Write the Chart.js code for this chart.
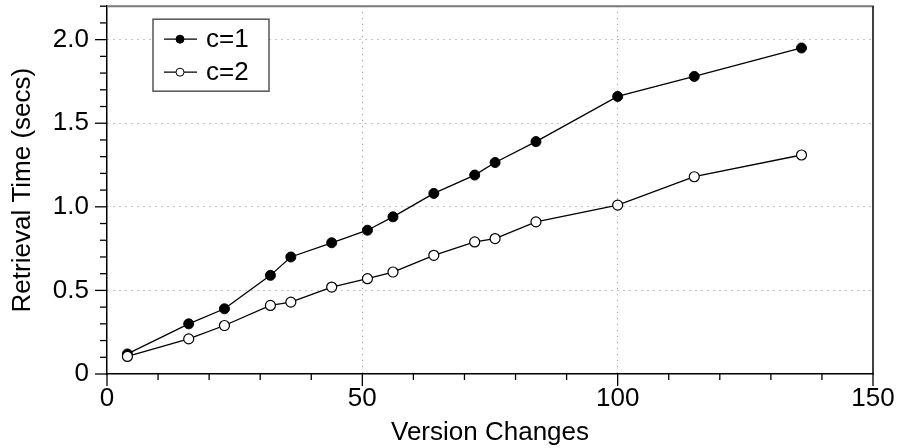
<!DOCTYPE html>
<html>
<head>
<meta charset="utf-8">
<script src="https://cdn.jsdelivr.net/npm/chart.js@4.4.1/dist/chart.umd.min.js"></script>
<style>
  html, body { margin: 0; padding: 0; background: #fff; }
  #wrap { width: 898px; height: 448px; }
</style>
</head>
<body>
<div id="wrap"><canvas id="chart" width="898" height="448"></canvas></div>
<script>
// Retrieval time against number of version changes, for c=1 and c=2
const versionChanges = [4, 16, 23, 32, 36, 44, 51, 56, 64, 72, 76, 84, 100, 115, 136];
const timeC1 = [0.12, 0.30, 0.39, 0.59, 0.70, 0.785, 0.86, 0.94, 1.08, 1.19, 1.265, 1.39, 1.66, 1.78, 1.95];
const timeC2 = [0.105, 0.21, 0.29, 0.41, 0.43, 0.52, 0.57, 0.61, 0.71, 0.79, 0.81, 0.91, 1.01, 1.18, 1.31];
const seriesLabels = ['c=1', 'c=2'];

const xMajorTicks = [0, 50, 100, 150];
const xTickLabels = ['0', '50', '100', '150'];
const xMinorTicks = [10, 20, 30, 40, 60, 70, 80, 90, 110, 120, 130, 140];
const yMajorTicks = [0, 0.5, 1.0, 1.5, 2.0];
const yTickLabels = ['0', '0.5', '1.0', '1.5', '2.0'];
const yMinorTicks = [0.1, 0.2, 0.3, 0.4, 0.6, 0.7, 0.8, 0.9, 1.1, 1.2, 1.3, 1.4, 1.6, 1.7, 1.8, 1.9, 2.1, 2.2];

const FONT = { family: '"Liberation Sans", Arial, Helvetica, sans-serif', size: 26 };

// Major/minor tick marks, the plot frame and the boxed legend
const decorations = {
  id: 'decorations',
  afterDraw(chart) {
    const { ctx, chartArea: a, scales: { x, y } } = chart;
    ctx.save();
    const seg = (x1, y1, x2, y2) => { ctx.beginPath(); ctx.moveTo(x1, y1); ctx.lineTo(x2, y2); ctx.stroke(); };

    // top and right frame
    ctx.strokeStyle = '#7a7a7a'; ctx.lineWidth = 2;
    seg(a.left, a.top, a.right + 1, a.top);
    ctx.strokeStyle = '#000'; ctx.lineWidth = 1.5;
    seg(a.right, a.top, a.right, a.bottom);

    // tick marks
    ctx.strokeStyle = '#000'; ctx.lineWidth = 1.3;
    xMajorTicks.forEach(v => { const p = x.getPixelForValue(v); seg(p, a.bottom, p, a.bottom + 12); });
    xMinorTicks.forEach(v => { const p = x.getPixelForValue(v); seg(p, a.bottom, p, a.bottom + 6); });
    yMajorTicks.forEach(v => { const p = y.getPixelForValue(v); seg(a.left, p, a.left - 12, p); });
    yMinorTicks.forEach(v => { const p = y.getPixelForValue(v); seg(a.left, p, a.left - 7, p); });

    // legend
    const bx = a.left + 46, by = a.top + 13, bw = 116, bh = 72;
    ctx.fillStyle = '#fff';
    ctx.fillRect(bx, by, bw, bh);
    ctx.strokeStyle = '#555'; ctx.lineWidth = 1.5;
    ctx.strokeRect(bx, by, bw, bh);
    chart.data.datasets.forEach((ds, i) => {
      const ly = by + 20 + i * 33;
      ctx.strokeStyle = ds.borderColor; ctx.lineWidth = ds.borderWidth;
      seg(bx + 11, ly, bx + 44, ly);
      ctx.beginPath();
      ctx.arc(bx + 27, ly, 4, 0, Math.PI * 2);
      ctx.fillStyle = ds.pointBackgroundColor; ctx.fill();
      ctx.strokeStyle = ds.pointBorderColor; ctx.lineWidth = 1; ctx.stroke();
      ctx.fillStyle = '#000';
      ctx.font = `${FONT.size}px ${FONT.family}`;
      ctx.textAlign = 'left'; ctx.textBaseline = 'middle';
      ctx.fillText(ds.label, bx + 53, ly + 1);
    });
    ctx.restore();
  }
};

const gridColor = (ends) => (c) => (ends.includes(c.tick && c.tick.value) ? 'rgba(0,0,0,0)' : '#8a8a8a');

new Chart(document.getElementById('chart'), {
  type: 'line',
  data: {
    datasets: [
      {
        label: seriesLabels[0],
        data: versionChanges.map((v, i) => ({ x: v, y: timeC1[i] })),
        borderColor: '#000', borderWidth: 1.3,
        pointRadius: 5, pointBackgroundColor: '#000', pointBorderColor: '#000', pointBorderWidth: 1,
        tension: 0, order: 1
      },
      {
        label: seriesLabels[1],
        data: versionChanges.map((v, i) => ({ x: v, y: timeC2[i] })),
        borderColor: '#000', borderWidth: 1.3,
        pointRadius: 5, pointBackgroundColor: '#fff', pointBorderColor: '#000', pointBorderWidth: 1.2,
        tension: 0, order: 0
      }
    ]
  },
  options: {
    responsive: false,
    animation: false,
    devicePixelRatio: 1,
    layout: { padding: { left: 0, top: 4, right: 25, bottom: 0 } },
    plugins: { legend: { display: false }, tooltip: { enabled: false } },
    scales: {
      x: {
        type: 'linear', min: 0, max: 150,
        afterBuildTicks: (s) => { s.ticks = xMajorTicks.map(v => ({ value: v })); },
        afterFit: (s) => { s.height = 74; s.paddingLeft = 0; s.paddingRight = 0; },
        ticks: {
          color: '#000', font: FONT, padding: 9, maxRotation: 0, autoSkip: false,
          callback: (v) => xTickLabels[xMajorTicks.indexOf(v)]
        },
        grid: { drawTicks: false, color: gridColor([0, 150]), lineWidth: 1 },
        border: { display: true, color: '#000', width: 1.5, dash: [1, 5] },
        title: { display: true, text: 'Version Changes', color: '#000', font: FONT, padding: { top: 0, bottom: 0 } }
      },
      y: {
        type: 'linear', min: 0, max: 2.2,
        afterBuildTicks: (s) => { s.ticks = yMajorTicks.map(v => ({ value: v })); },
        afterFit: (s) => { s.width = 107; s.paddingTop = 0; s.paddingBottom = 0; },
        ticks: {
          color: '#000', font: FONT, padding: 18, autoSkip: false,
          callback: (v) => yTickLabels[yMajorTicks.indexOf(v)]
        },
        grid: { drawTicks: false, color: gridColor([0]), lineWidth: 1 },
        border: { display: true, color: '#000', width: 1.5, dash: [1, 5] },
        title: { display: true, text: 'Retrieval Time (secs)', color: '#000', font: FONT, padding: { top: 7, bottom: 0 } }
      }
    }
  },
  plugins: [decorations]
});
</script>
</body>
</html>
